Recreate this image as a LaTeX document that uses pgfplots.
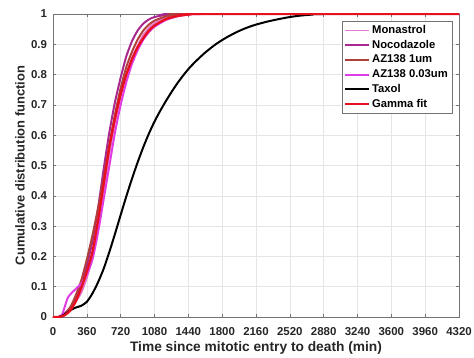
\documentclass[border=0pt]{standalone}
\usepackage{pgfplots}
\pgfplotsset{compat=1.18}
\usepackage{fontspec}
\setmainfont{Liberation Sans}
\definecolor{cMon}{HTML}{E678D2}
\definecolor{cNoc}{HTML}{A82890}
\definecolor{cAZ1}{HTML}{B0403C}
\definecolor{cAZ3}{HTML}{E03CE6}
\definecolor{cGam}{HTML}{E8101E}
\begin{document}
\begin{tikzpicture}
\begin{axis}[
  scale only axis,
  width=406bp, height=303bp,
  xmin=0, xmax=4320, ymin=0, ymax=1,
  xtick={0,360,...,4320},
  ytick={0,0.1,...,1},
  yticklabels={0,0.1,0.2,0.3,0.4,0.5,0.6,0.7,0.8,0.9,1},
  /pgf/number format/1000 sep={},
  /pgf/number format/assume math mode=true,
  tick label style={font=\fontsize{11.5}{13}\selectfont\bfseries, text=black!85},
  xticklabel style={anchor=center, yshift=-15bp},
  yticklabel style={anchor=east, xshift=-2.5bp},
  xlabel={Time since mitotic entry to death (min)},
  ylabel={Cumulative distribution function},
  xlabel style={font=\fontsize{13.8}{15}\selectfont\bfseries, text=black!85,
    at={(axis description cs:0.5,0)}, anchor=center, yshift=-31bp},
  ylabel style={font=\fontsize{13}{15}\selectfont\bfseries, text=black!85,
    at={(axis description cs:0,0.5)}, anchor=center, yshift=33bp},
  grid=major,
  major grid style={color=black!10, line width=0.5pt},
  tick align=inside,
  major tick length=3.5pt,
  tick style={color=black!55, line width=0.5pt},
  axis line style={color=black!55, line width=0.6pt},
  legend style={at={(rel axis cs:0.983,0.977)}, anchor=north east,
    font=\fontsize{11.3}{13}\selectfont\bfseries, draw=black!55, line width=0.5pt,
    row sep=0pt, inner sep=2pt,
    nodes={text height=8.3bp, text depth=2.4bp, inner sep=2bp}},
  legend cell align=left,
  legend image code/.code={\draw[#1, line width=1.8pt, sharp plot] (0bp,0bp) -- (24bp,0bp);},
  every axis plot/.append style={line width=2pt, smooth, tension=0.4},
]
\addplot[cMon] coordinates {(0,0)(60,0)(120,0.01)(180,0.03)(240,0.05)(300,0.08)(360,0.13)(420,0.20)(480,0.30)(540,0.42)(600,0.54)(660,0.645)(720,0.73)(780,0.80)(840,0.855)(900,0.895)(960,0.93)(1020,0.953)(1080,0.97)(1200,0.988)(1320,0.996)(1500,1)(4320,1)};
\addlegendentry{Monastrol}
\addplot[cNoc] coordinates {(0,0)(60,0)(120,0.01)(180,0.03)(240,0.06)(300,0.11)(360,0.17)(420,0.25)(480,0.36)(540,0.49)(600,0.61)(660,0.71)(720,0.79)(780,0.86)(840,0.91)(900,0.945)(960,0.968)(1020,0.982)(1080,0.99)(1200,0.997)(1380,1)(4320,1)};
\addlegendentry{Nocodazole}
\addplot[cAZ1] coordinates {(0,0)(60,0)(120,0.008)(180,0.03)(240,0.07)(300,0.12)(360,0.19)(420,0.27)(480,0.36)(540,0.46)(600,0.57)(660,0.67)(720,0.755)(780,0.825)(840,0.875)(900,0.915)(960,0.945)(1020,0.965)(1080,0.978)(1200,0.992)(1320,0.998)(1440,1)(4320,1)};
\addlegendentry{AZ138 1um}
\addplot[cAZ3] coordinates {(0,0)(60,0)(100,0.01)(160,0.065)(250,0.095)(300,0.11)(360,0.14)(420,0.19)(480,0.28)(540,0.39)(600,0.50)(660,0.61)(720,0.70)(780,0.775)(840,0.835)(900,0.88)(960,0.915)(1020,0.94)(1080,0.958)(1200,0.98)(1320,0.992)(1440,0.998)(1600,1)(4320,1)};
\addlegendentry{AZ138 0.03um}
\addplot[black] coordinates {(0,0)(60,0)(100,0.004)(150,0.014)(200,0.025)(240,0.031)(300,0.037)(360,0.05)(420,0.078)(480,0.115)(540,0.16)(600,0.215)(660,0.275)(720,0.337)(780,0.398)(840,0.456)(900,0.51)(960,0.56)(1020,0.605)(1080,0.645)(1140,0.68)(1200,0.712)(1260,0.742)(1320,0.77)(1380,0.795)(1440,0.818)(1500,0.838)(1560,0.856)(1620,0.873)(1680,0.888)(1740,0.902)(1800,0.914)(1860,0.925)(1920,0.935)(1980,0.944)(2040,0.952)(2100,0.959)(2160,0.965)(2280,0.975)(2400,0.983)(2520,0.99)(2640,0.995)(2760,0.998)(2880,1)(4320,1)};
\addlegendentry{Taxol}
\addplot[cGam, line width=2.3pt] coordinates {(0,0)(60,0)(120,0.005)(180,0.02)(240,0.05)(300,0.095)(360,0.15)(420,0.215)(480,0.32)(540,0.44)(600,0.56)(660,0.655)(720,0.735)(780,0.8)(840,0.85)(900,0.89)(960,0.92)(1020,0.945)(1080,0.962)(1200,0.983)(1320,0.993)(1440,0.998)(1620,1)(4320,1)};
\addlegendentry{Gamma fit}
\end{axis}
\pgfresetboundingbox
\path[use as bounding box] ([shift={(-53bp,-41bp)}]current axis.south west) rectangle ([shift={(15bp,14bp)}]current axis.north east);
\end{tikzpicture}
\end{document}
